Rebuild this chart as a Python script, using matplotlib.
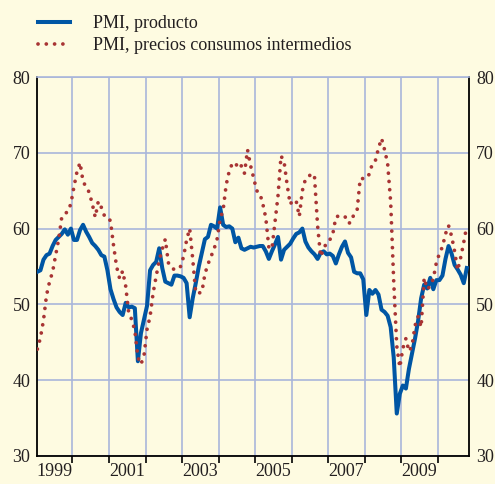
import numpy as np
import matplotlib
matplotlib.use("Agg")
import matplotlib.pyplot as plt

# PMI series, monthly from Jan 1999 to Oct 2010
pmi_producto = [
    54.3, 54.5, 55.9, 56.5, 56.7, 57.7, 58.5, 58.9, 59.3, 59.9, 59.2, 60.0,
    58.5, 58.5, 59.8, 60.5, 59.6, 58.9, 58.1, 57.7, 57.2, 56.5, 56.3, 54.5,
    52.0, 50.7, 49.6, 49.0, 48.6, 50.2, 49.6, 49.7, 49.5, 42.5, 46.2, 48.0,
    49.8, 54.5, 55.2, 55.6, 57.4, 54.8, 53.0, 52.8, 52.6, 53.8, 53.8, 53.7,
    53.5, 52.8, 48.3, 50.8, 52.8, 55.0, 56.8, 58.6, 58.9, 60.5, 60.3, 60.0,
    62.8, 60.5, 60.2, 60.3, 60.0, 58.2, 58.8, 57.4, 57.2, 57.4, 57.6, 57.5,
    57.6, 57.7, 57.7, 57.0, 56.0, 57.0, 57.9, 58.9, 55.9, 57.2, 57.6, 58.0,
    58.7, 59.3, 59.5, 60.0, 58.3, 57.5, 57.0, 56.6, 56.0, 56.8, 57.0, 56.6,
    56.7, 56.4, 55.4, 56.6, 57.6, 58.3, 56.8, 56.2, 54.3, 54.1, 54.1, 53.3,
    48.6, 51.9, 51.4, 51.9, 51.3, 49.3, 49.0, 48.5, 47.0, 43.0, 35.6, 38.2,
    39.3, 38.9, 41.5, 43.5, 45.5, 47.8, 50.8, 52.6, 52.1, 53.5, 52.0, 53.2,
    53.2, 53.8, 56.0, 57.7, 56.7, 55.2, 54.6, 53.9, 52.8, 54.8,
]
pmi_precios = [
    44.1, 45.6, 47.9, 51.2, 53.0, 54.3, 56.5, 58.6, 61.5, 62.0, 62.2, 63.3,
    65.5, 67.5, 68.7, 66.2, 65.5, 64.8, 63.3, 61.5, 63.6, 62.8, 61.7, 61.6,
    61.0, 57.8, 55.0, 53.4, 54.4, 52.4, 48.8, 48.0, 46.5, 43.0, 42.1, 43.2,
    46.7, 48.4, 51.5, 53.7, 55.8, 57.3, 58.6, 55.5, 54.8, 54.6, 54.6, 55.0,
    56.3, 58.5, 60.0, 56.0, 51.5, 51.5, 51.6, 54.0, 55.3, 56.3, 57.3, 58.6,
    61.2, 62.5, 65.8, 67.6, 68.6, 68.7, 67.9, 68.3, 67.3, 70.4, 68.3, 66.7,
    65.0, 64.7, 63.3, 61.4, 57.5, 57.3, 60.8, 64.3, 69.6, 68.8, 65.8, 63.2,
    63.8, 63.6, 61.6, 65.0, 66.5, 66.8, 67.3, 66.8, 60.4, 56.3, 57.3, 58.2,
    58.5, 59.3, 61.5, 61.7, 61.7, 61.6, 60.7, 60.8, 62.0, 62.5, 66.6, 66.6,
    66.6, 67.2, 68.6, 69.0, 70.6, 71.9, 70.4, 68.6, 63.5, 53.0, 44.5, 41.7,
    44.2, 45.5, 43.8, 44.5, 47.2, 48.4, 47.0, 53.5, 52.0, 52.4, 53.4, 55.5,
    56.7, 57.6, 59.3, 60.4, 59.0, 57.0, 54.5, 56.2, 58.2, 60.4,
]
labels = ["PMI, producto", "PMI, precios consumos intermedios"]
year_labels = ["1999", "2001", "2003", "2005", "2007", "2009"]
y_ticks = [30, 40, 50, 60, 70, 80]

# time axis in fractional years (mid-month)
t = 1999 + (np.arange(len(pmi_producto)) + 0.5) / 12

bg = "#fefbe1"
grid_c = "#a9b6da"
blue = "#0056a4"
red = "#a83434"
txt = "#231f20"

plt.rcParams["font.family"] = ["Liberation Serif", "DejaVu Serif"]

fig = plt.figure(figsize=(4.95, 4.84), dpi=100, facecolor=bg)
ax = fig.add_axes([0.0754, 0.0579, 0.8727, 0.783])
ax.set_facecolor(bg)

l1, = ax.plot(t, pmi_producto, color=blue, lw=2.9, solid_joinstyle="round", zorder=3)
l2, = ax.plot(t, pmi_precios, color=red, lw=2.7, linestyle=(0, (0.01, 2.2)),
              dash_capstyle="round", zorder=4)

ax.set_xlim(1999.04, 2010.86)
ax.set_ylim(30, 80)

# x axis: year ticks, labels centred in odd years
ax.set_xticks(np.arange(2000, 2011))
ax.set_xticklabels([])
ax.set_xticks([int(y) + 0.5 for y in year_labels], minor=True)
ax.set_xticklabels(year_labels, minor=True)
ax.tick_params(axis="x", which="major", direction="out", length=5, width=1.2, color="black")
ax.tick_params(axis="x", which="minor", length=0, pad=5, labelsize=13, labelcolor=txt)

ax.set_yticks(y_ticks)
ax.tick_params(axis="y", length=0, labelleft=True, labelright=True, pad=5,
               labelsize=13, labelcolor=txt)

ax.grid(True, which="major", color=grid_c, lw=1.2, zorder=0)
ax.set_axisbelow(True)

for s in ["left", "right", "bottom"]:
    ax.spines[s].set_color("black")
    ax.spines[s].set_linewidth(1.3)
ax.spines["top"].set_color(grid_c)
ax.spines["top"].set_linewidth(1.2)

fig.legend([l1, l2], labels, loc="upper left", bbox_to_anchor=(0.052, 0.995),
           frameon=False, fontsize=13, handlelength=1.75, handletextpad=1.25,
           labelspacing=0.3, borderpad=0.2, labelcolor=txt)

fig.savefig("out.png", dpi=100, facecolor=bg)
